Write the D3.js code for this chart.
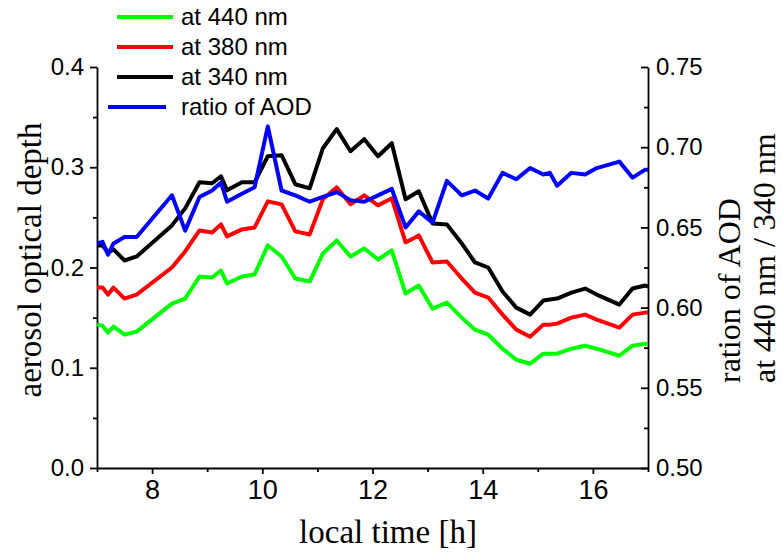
<!DOCTYPE html>
<html>
<head>
<meta charset="utf-8">
<script src="https://cdn.jsdelivr.net/npm/d3@7/dist/d3.min.js"></script>
<style>
  html, body { margin: 0; padding: 0; background: #fff; }
  svg { display: block; }
  .tick text { font-family: "Liberation Sans", Arial, sans-serif; fill: #000; }
  .axis path, .axis line { stroke: #000; }
</style>
</head>
<body>
<svg id="chart" width="783" height="552"></svg>
<script>
// Local time of each measurement [h]
const times = [7.0, 7.1, 7.2, 7.3, 7.5, 7.72, 8.36, 8.6, 8.86, 9.09, 9.25, 9.36, 9.63, 9.86,
  10.1, 10.35, 10.6, 10.86, 11.1, 11.35, 11.6, 11.85, 12.1, 12.35, 12.6, 12.84,
  13.09, 13.35, 13.62, 13.86, 14.1, 14.36, 14.61, 14.86, 15.1, 15.22, 15.35, 15.61, 15.86,
  16.07, 16.48, 16.72, 16.95, 17.0];

// Aerosol optical depth at 440 nm
const aod440 = [0.143, 0.142, 0.135, 0.141, 0.133, 0.136, 0.164, 0.169, 0.191, 0.190, 0.197, 0.184, 0.191, 0.193,
  0.222, 0.211, 0.189, 0.186, 0.214, 0.227, 0.211, 0.219, 0.208, 0.217, 0.174, 0.182,
  0.159, 0.165, 0.150, 0.138, 0.133, 0.119, 0.108, 0.104, 0.114, 0.114, 0.114, 0.119, 0.122,
  0.119, 0.112, 0.122, 0.124, 0.124];

// Aerosol optical depth at 380 nm
const aod380 = [0.180, 0.180, 0.173, 0.180, 0.169, 0.173, 0.200, 0.216, 0.237, 0.235, 0.243, 0.231, 0.238, 0.240,
  0.266, 0.263, 0.236, 0.233, 0.268, 0.280, 0.263, 0.272, 0.262, 0.269, 0.225, 0.232,
  0.205, 0.206, 0.189, 0.175, 0.170, 0.153, 0.138, 0.131, 0.143, 0.143, 0.144, 0.150, 0.153,
  0.148, 0.140, 0.153, 0.155, 0.155];

// Aerosol optical depth at 340 nm
const aod340 = [0.222, 0.222, 0.215, 0.218, 0.207, 0.211, 0.242, 0.259, 0.285, 0.284, 0.291, 0.277, 0.285, 0.285,
  0.311, 0.312, 0.283, 0.279, 0.319, 0.338, 0.316, 0.328, 0.311, 0.324, 0.268, 0.276,
  0.244, 0.243, 0.224, 0.205, 0.200, 0.176, 0.160, 0.153, 0.167, 0.168, 0.169, 0.175, 0.179,
  0.173, 0.163, 0.179, 0.182, 0.181];

// Ratio of AOD at 440 nm / 340 nm (right axis)
const ratio = [0.640, 0.641, 0.633, 0.640, 0.644, 0.644, 0.670, 0.648, 0.669, 0.673, 0.678, 0.666, 0.671, 0.675,
  0.713, 0.673, 0.670, 0.666, 0.669, 0.672, 0.667, 0.666, 0.670, 0.674, 0.650, 0.660,
  0.653, 0.679, 0.670, 0.673, 0.668, 0.684, 0.680, 0.687, 0.683, 0.684, 0.676, 0.684, 0.683,
  0.687, 0.691, 0.681, 0.686, 0.686];

// Tick values
const xMajor = [8, 10, 12, 14, 16];
const xMinor = [7, 9, 11, 13, 15, 17];
const yLeftMajor = [0.0, 0.1, 0.2, 0.3, 0.4];
const yLeftMinor = [0.05, 0.15, 0.25, 0.35];
const yRightMajor = [0.50, 0.55, 0.60, 0.65, 0.70, 0.75];
const yRightMinor = [0.525, 0.575, 0.625, 0.675, 0.725];

// Legend entries
const legendLabels = ["at 440 nm", "at 380 nm", "at 340 nm", "ratio of AOD"];
const seriesColors = ["#00ff00", "#ff0000", "#000000", "#0000ff"];

const svg = d3.select("#chart");
const plot = { left: 97, right: 648, top: 67, bottom: 468 };

const x = d3.scaleLinear().domain([7, 17]).range([plot.left, plot.right]);
const yL = d3.scaleLinear().domain([0, 0.4]).range([plot.bottom, plot.top]);
const yR = d3.scaleLinear().domain([0.5, 0.75]).range([plot.bottom, plot.top]);

const tickFont = "Liberation Sans, Arial, sans-serif";
const titleFont = "Liberation Serif, Times New Roman, serif";

// Bottom axis
const gx = svg.append("g").attr("class", "axis").attr("transform", `translate(0,${plot.bottom})`);
gx.call(d3.axisBottom(x).tickValues(xMajor).tickFormat(d3.format("d")).tickSize(6).tickSizeOuter(0).tickPadding(6));
gx.selectAll(".tick text").attr("font-size", 27).attr("font-family", tickFont);
const gxm = svg.append("g").attr("class", "axis").attr("transform", `translate(0,${plot.bottom})`);
gxm.call(d3.axisBottom(x).tickValues(xMinor).tickFormat("").tickSize(4).tickSizeOuter(0));
gxm.select(".domain").remove();

// Left axis
const gl = svg.append("g").attr("class", "axis").attr("transform", `translate(${plot.left},0)`);
gl.call(d3.axisLeft(yL).tickValues(yLeftMajor).tickFormat(d3.format(".1f")).tickSize(7).tickSizeOuter(0).tickPadding(6));
gl.selectAll(".tick text").attr("font-size", 24).attr("font-family", tickFont);
const glm = svg.append("g").attr("class", "axis").attr("transform", `translate(${plot.left},0)`);
glm.call(d3.axisLeft(yL).tickValues(yLeftMinor).tickFormat("").tickSize(4).tickSizeOuter(0));
glm.select(".domain").remove();

// Right axis (ticks point into the plot)
const gr = svg.append("g").attr("class", "axis").attr("transform", `translate(${plot.right},0)`);
gr.call(d3.axisRight(yR).tickValues(yRightMajor).tickFormat(d3.format(".2f")).tickSize(-7).tickSizeOuter(0).tickPadding(8));
gr.selectAll(".tick text").attr("font-size", 24).attr("font-family", tickFont);
const grm = svg.append("g").attr("class", "axis").attr("transform", `translate(${plot.right},0)`);
grm.call(d3.axisRight(yR).tickValues(yRightMinor).tickFormat("").tickSize(-4).tickSizeOuter(0));
grm.select(".domain").remove();

svg.selectAll(".axis .domain, .axis line").attr("stroke-width", 1.8);

// Series lines
const lineL = d3.line().x((d, i) => x(times[i])).y(d => yL(d));
const lineR = d3.line().x((d, i) => x(times[i])).y(d => yR(d));

const series = [
  { values: aod440, line: lineL, color: seriesColors[0] },
  { values: aod380, line: lineL, color: seriesColors[1] },
  { values: aod340, line: lineL, color: seriesColors[2] },
  { values: ratio, line: lineR, color: seriesColors[3] }
];

svg.append("g").selectAll("path").data(series).join("path")
  .attr("d", s => s.line(s.values))
  .attr("fill", "none")
  .attr("stroke", s => s.color)
  .attr("stroke-width", 4)
  .attr("stroke-linejoin", "round");

// Legend
const legend = svg.append("g");
legendLabels.forEach((label, i) => {
  const cy = 17 + i * 30;
  const x0 = i === 3 ? 108 : 117;
  const x1 = i === 3 ? 166 : 173;
  legend.append("line").attr("x1", x0).attr("x2", x1).attr("y1", cy).attr("y2", cy)
    .attr("stroke", seriesColors[i]).attr("stroke-width", 4);
  legend.append("text").attr("x", 181).attr("y", cy).attr("dy", "0.35em")
    .attr("font-family", tickFont).attr("font-size", 24).text(label);
});

// Axis titles
svg.append("text")
  .attr("transform", "translate(41,260) rotate(-90)")
  .attr("text-anchor", "middle")
  .attr("font-family", titleFont).attr("font-size", 33)
  .text("aerosol optical depth");

svg.append("text")
  .attr("x", 388).attr("y", 543)
  .attr("text-anchor", "middle")
  .attr("font-family", titleFont).attr("font-size", 33)
  .text("local time [h]");

svg.append("text")
  .attr("transform", "translate(740,383) rotate(-90)")
  .attr("text-anchor", "start")
  .attr("font-family", titleFont).attr("font-size", 32)
  .text("ration of AOD");

svg.append("text")
  .attr("transform", "translate(775,383) rotate(-90)")
  .attr("text-anchor", "start")
  .attr("font-family", titleFont).attr("font-size", 32)
  .text("at 440 nm / 340 nm");
</script>
</body>
</html>
